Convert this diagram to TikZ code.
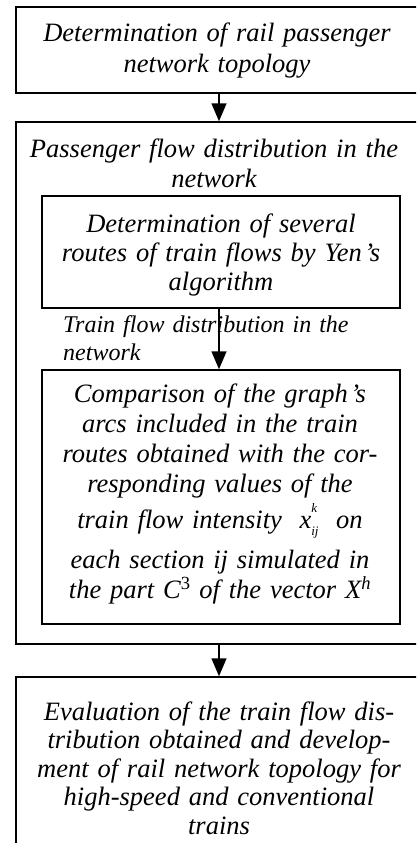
\documentclass[tikz,border=0pt]{standalone}
\usepackage{fontspec}
\setmainfont{Liberation Serif}
\usetikzlibrary{arrows.meta}
% superscript/subscript pair set in text italics
\newcommand{\supsubtxt}[3]{\textit{#1}\makebox[0pt][l]{\raisebox{0.6em}{\fontsize{13}{13}\selectfont\itshape #2}}\raisebox{-0.25em}{\fontsize{13}{13}\selectfont\itshape #3}}
% spaced apostrophe
\newcommand{\apos}{\kern2.5pt’}
\begin{document}
\begin{tikzpicture}[x=1pt,y=-1pt,
  frame/.style={draw, line width=1.5pt, inner sep=0pt, minimum width=#1},
  body/.style={inner sep=0pt, anchor=base, text width=400pt, align=center,
    font=\fontsize{26.5}{30}\selectfont\itshape},
  note/.style={inner sep=0pt, anchor=base west, text width=330pt, align=left,
    font=\fontsize{24}{28}\selectfont\itshape},
  arr/.style={line width=1.5pt, -{Triangle[width=15pt,length=18pt]}}]
\useasboundingbox (0,0) rectangle (416,843);
\clip (0,0) rectangle (416,843);

% boxes
\node[frame=406pt, minimum height=86pt]  (top)    at (219,50)    {};
\node[frame=406pt, minimum height=522pt] (outer)  at (219,383)   {};
\node[frame=358pt, minimum height=112pt] (routes) at (221,252)   {};
\node[frame=358pt, minimum height=254pt] (comp)   at (221,497)   {};
\node[frame=406pt, minimum height=220pt] (eval)   at (219,787)   {};

% texts
\node[body] (ttop) at (217,42) {Determination of rail passenger\\network topology};
\node[body] (touter) at (214,157) {Passenger flow distribution in the\\network};
\node[body, font=\fontsize{26.5}{29}\selectfont\itshape] (troutes) at (221,232)
  {Determination of several\\routes of train flows by Yen\apos s\\algorithm};
\node[body] (tcomp) at (220,402)
  {Comparison of the graph\apos s\\arcs included in the train\\routes obtained with the cor-\\responding values of the\\[5pt]
   train flow intensity~~\supsubtxt{x}{k}{ij}~~on\\[10pt]
   each section ij simulated in\\the part C\textsuperscript{\upshape 3} of the vector X\textsuperscript{h}};
\node[body, font=\fontsize{26.5}{28.5}\selectfont\itshape] (teval) at (219,720)
  {Evaluation of the train flow dis-\\tribution obtained and develop-\\ment of rail network topology for\\high-speed and conventional\\trains};
\node[note] (tnote) at (63,332) {Train flow distribution in the\\network};

% connectors
\draw[arr] (top.south) -- (outer.north);
\draw[arr] (routes.south -| top.south) -- (comp.north -| top.south);
\draw[arr] (outer.south) -- (eval.north);
\end{tikzpicture}
\end{document}
